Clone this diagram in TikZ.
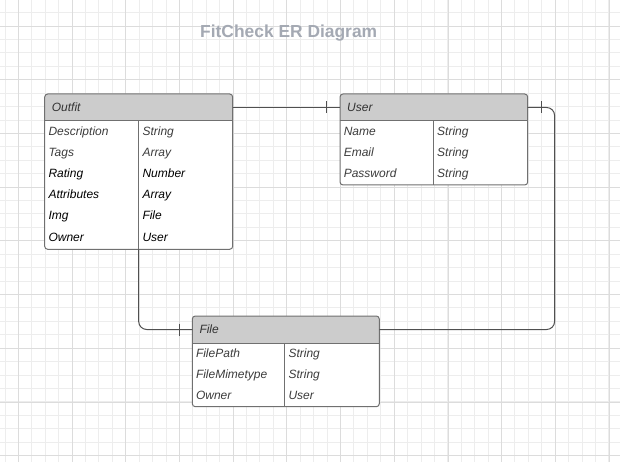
\documentclass[tikz,border=0pt]{standalone}
\usepackage{fontspec}
\setmainfont{Liberation Sans}
\usepackage{xcolor}
\usepackage{tikz}

\definecolor{gridlight}{HTML}{EDEDED}
\definecolor{griddark}{HTML}{DCDCDC}
\definecolor{headgray}{HTML}{CCCCCC}
\definecolor{boxline}{HTML}{707070}
\definecolor{linkgray}{HTML}{505050}
\definecolor{headtext}{HTML}{333333}
\definecolor{fieldtext}{HTML}{3C3C3C}
\definecolor{titlegray}{HTML}{A4A9B3}

\begin{document}
\begin{tikzpicture}[
  x=1pt, y=-1pt,
  font=\fontsize{12}{14}\selectfont\itshape,
  minor/.style={draw=gridlight, line width=0.8pt},
  major/.style={draw=griddark, line width=0.8pt},
  table/.style={fill=white, rounded corners=3pt, inner sep=0pt, outer sep=0pt, anchor=north west},
  head/.style={minimum height=27pt, inner sep=0pt, outer sep=0pt, anchor=north west},
  headtxt/.style={anchor=west, inner sep=0pt, text=headtext, text height=8.6pt, text depth=0pt},
  field/.style={anchor=base west, inner sep=0pt, text=fieldtext},
  rule/.style={draw=boxline, line width=1pt},
  frame/.style={draw=boxline, line width=1pt, rounded corners=3pt},
  link/.style={draw=linkgray, line width=1pt, rounded corners=8pt},
  tick/.style={draw=linkgray, line width=1pt}
]
\useasboundingbox (0,0) rectangle (620,462);
\fill[white] (0,0) rectangle (620,462);

% grid paper
\foreach \i in {0,...,45} \draw[minor] ({4.9+13.42*\i},0) -- ({4.9+13.42*\i},462);
\foreach \j in {0,...,33} \draw[minor] (0,{12.6+13.42*\j}) -- (620,{12.6+13.42*\j});
\foreach \i in {0,...,11} \draw[major] ({18.3+53.7*\i},0) -- ({18.3+53.7*\i},462);
\foreach \j in {0,...,8} \draw[major] (0,{26+53.7*\j}) -- (620,{26+53.7*\j});

\node[font=\fontsize{17.4}{20}\selectfont\bfseries, text=titlegray] (title) at (288.7,33) {FitCheck ER Diagram};

% entity tables
\foreach \t/\ttl/\x/\y/\w/\h/\d in {outfit/Outfit/44.7/94/188/155.3/94, user/User/340/94/187.7/91/93.3, file/File/192.3/316/187/90.7/92.4} {
  \node[table, minimum width=\w pt, minimum height=\h pt] (\t) at (\x,\y) {};
  \node[head, minimum width=\w pt] (\t-head) at (\t.north west) {};
  \begin{scope}
    \clip[rounded corners=3pt] (\t.north west) rectangle (\t.south east);
    \fill[headgray] (\t-head.north west) rectangle (\t-head.south east);
  \end{scope}
  \node[headtxt] (\t-title) at ([xshift=7pt]\t-head.west) {\ttl};
  \coordinate (\t-div) at ([xshift=\d pt]\t.south west);
  \draw[rule] (\t-head.south west) -- (\t-head.south east);
  \draw[rule] ([xshift=\d pt]\t-head.south west) -- (\t-div);
  \draw[frame] (\t.north west) rectangle (\t.south east);
}

% fields
\foreach \f/\ty/\c [count=\i] in {Description/String/fieldtext, Tags/Array/fieldtext, Rating/Number/black, Attributes/Array/black, Img/File/black, Owner/User/black} {
  \node[field, text=\c] (outfit-f\i) at (48.3,{135.3+21.15*(\i-1)}) {\f};
  \node[field, text=\c] (outfit-t\i) at (142.3,{135.3+21.15*(\i-1)}) {\ty};
}
\foreach \f/\ty [count=\i] in {Name/String, Email/String, Password/String} {
  \node[field] (user-f\i) at (343.6,{135.3+21.15*(\i-1)}) {\f};
  \node[field] (user-t\i) at (437,{135.3+21.15*(\i-1)}) {\ty};
}
\foreach \f/\ty [count=\i] in {FilePath/String, FileMimetype/String, Owner/User} {
  \node[field] (file-f\i) at (195.8,{357+21.15*(\i-1)}) {\f};
  \node[field] (file-t\i) at (288.3,{357+21.15*(\i-1)}) {\ty};
}

% relations
\coordinate (rail) at (554.6,0);
\draw[link] (outfit-head.east) -- (user-head.west);
\draw[link] (user-head.east) -- (user-head.east -| rail) |- (file-head.east);
\draw[link] (outfit-div) |- (file-head.west);
\draw[tick] ([xshift=-13.3pt]user-head.west) ++(0,-6) -- ++(0,12);
\draw[tick] ([xshift=14pt]user-head.east) ++(0,-6) -- ++(0,12);
\draw[tick] ([xshift=-13.3pt]file-head.west) ++(0,-6) -- ++(0,12);
\end{tikzpicture}
\end{document}
